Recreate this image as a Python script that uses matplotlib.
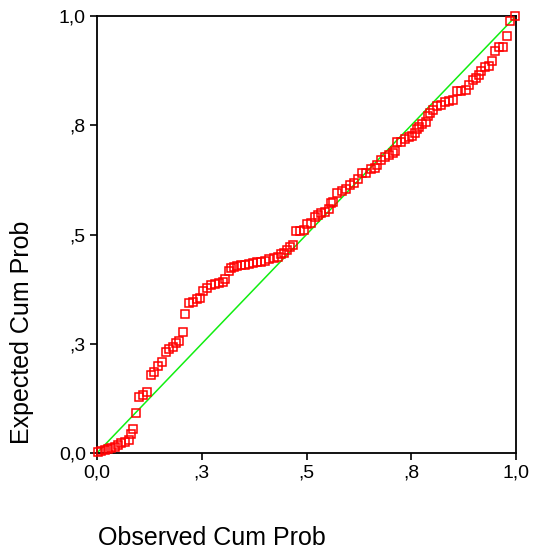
import matplotlib
matplotlib.use("Agg")
import matplotlib.pyplot as plt

plt.rcParams['font.family'] = ['Liberation Sans', 'DejaVu Sans']

observed = [0.002, 0.010, 0.019, 0.026, 0.033, 0.043, 0.050, 0.057, 0.067, 0.076,
            0.081, 0.086, 0.093, 0.100, 0.110, 0.119, 0.129, 0.136, 0.146, 0.155,
            0.165, 0.172, 0.181, 0.189, 0.196, 0.205, 0.210, 0.220, 0.229, 0.239,
            0.246, 0.253, 0.263, 0.272, 0.282, 0.291, 0.301, 0.305, 0.315, 0.320,
            0.327, 0.334, 0.344, 0.353, 0.363, 0.372, 0.382, 0.391, 0.401, 0.411,
            0.422, 0.432, 0.439, 0.446, 0.453, 0.461, 0.468, 0.475, 0.484, 0.494,
            0.501, 0.511, 0.520, 0.527, 0.535, 0.544, 0.554, 0.558, 0.563, 0.573,
            0.585, 0.594, 0.604, 0.613, 0.623, 0.632, 0.642, 0.654, 0.663, 0.668,
            0.678, 0.687, 0.697, 0.706, 0.711, 0.716, 0.726, 0.735, 0.745, 0.752,
            0.759, 0.764, 0.768, 0.776, 0.785, 0.790, 0.795, 0.802, 0.811, 0.821,
            0.831, 0.840, 0.850, 0.859, 0.869, 0.881, 0.888, 0.897, 0.905, 0.912,
            0.916, 0.926, 0.936, 0.943, 0.950, 0.959, 0.969, 0.979, 0.986, 0.997]
expected = [0.002, 0.005, 0.007, 0.009, 0.011, 0.014, 0.018, 0.023, 0.025, 0.030,
            0.043, 0.055, 0.092, 0.128, 0.133, 0.140, 0.178, 0.185, 0.199, 0.208,
            0.231, 0.238, 0.243, 0.252, 0.256, 0.277, 0.318, 0.343, 0.346, 0.352,
            0.355, 0.371, 0.378, 0.384, 0.387, 0.389, 0.391, 0.398, 0.416, 0.423,
            0.426, 0.428, 0.430, 0.430, 0.432, 0.435, 0.437, 0.437, 0.439, 0.444,
            0.446, 0.449, 0.455, 0.458, 0.465, 0.471, 0.476, 0.508, 0.508, 0.510,
            0.524, 0.526, 0.540, 0.545, 0.549, 0.551, 0.558, 0.572, 0.574, 0.595,
            0.600, 0.604, 0.613, 0.618, 0.627, 0.641, 0.641, 0.650, 0.652, 0.659,
            0.670, 0.677, 0.682, 0.686, 0.691, 0.712, 0.712, 0.719, 0.723, 0.725,
            0.732, 0.741, 0.746, 0.753, 0.757, 0.771, 0.778, 0.785, 0.794, 0.796,
            0.803, 0.805, 0.808, 0.828, 0.828, 0.831, 0.842, 0.854, 0.858, 0.865,
            0.874, 0.883, 0.886, 0.897, 0.920, 0.929, 0.929, 0.954, 0.989, 1.000]

tick_values = [0.0, 0.25, 0.5, 0.75, 1.0]
tick_labels = ["0,0", ",3", ",5", ",8", "1,0"]
ref_line = [0.0, 1.0]

fig = plt.figure(figsize=(5.34, 5.50), dpi=100)
ax = fig.add_axes([97/534, 1 - 453/550, (516-97)/534, (453-16)/550])

ax.plot(ref_line, ref_line, color='#11ee11', linewidth=1.1, zorder=2)
ax.plot(observed, expected, linestyle='none', marker='s', markersize=5.2,
        markerfacecolor='none', markeredgecolor='#ff0000', markeredgewidth=1.1,
        zorder=3, clip_on=False)

ax.set_xlim(0, 1)
ax.set_ylim(0, 1)
ax.set_xticks(tick_values)
ax.set_xticklabels(tick_labels)
ax.set_yticks(tick_values)
ax.set_yticklabels(tick_labels)
ax.tick_params(axis='both', direction='out', length=5, width=1.2,
               labelsize=14, colors='black', pad=3)
for s in ax.spines.values():
    s.set_linewidth(1.3)
    s.set_color('black')

fig.text(212/534, 1 - 538/550, "Observed Cum Prob", fontsize=18,
         ha='center', va='center')
fig.text(22/534, 1 - 332/550, "Expected Cum Prob", fontsize=18,
         ha='center', va='center', rotation=90)

fig.savefig("out.png", dpi=100)
